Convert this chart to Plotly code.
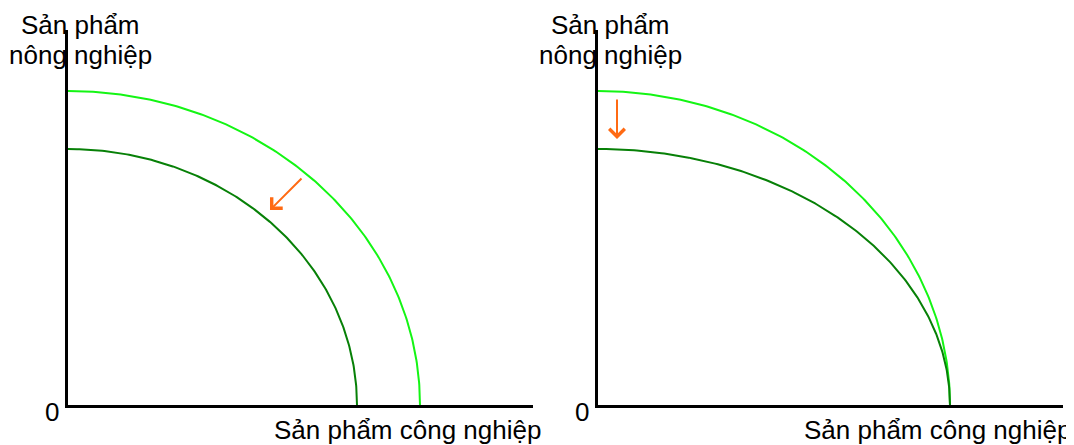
import numpy as np
import plotly.graph_objects as go

# ---- data (arbitrary output units) ----
# intercepts of production possibility frontiers: (industrial max, agricultural max)
left_outer = (352, 314)
left_inner = (289, 256)
right_outer = (352, 314)
right_inner = (352, 256)
axis_max = (465, 375)

x_label = "Sản phẩm công nghiệp"
y_label_lines = ["Sản phẩm", "nông nghiệp"]
origin_label = "0"

# arrows: (tail_x, tail_y, head_x, head_y) in data units
left_arrow = (235, 228, 202, 195)
right_arrow = (19, 307, 19, 266)

LIGHT = "#14f514"
DARK = "#078007"
ORANGE = "#ff6a13"
FONT = "Liberation Sans, Arial, sans-serif"

t = np.linspace(0, np.pi / 2, 200)


def ppf(ab):
    a, b = ab
    return a * np.cos(t), b * np.sin(t)


fig = go.Figure()
curves = [
    ("x", "y", left_outer, LIGHT),
    ("x", "y", left_inner, DARK),
    ("x2", "y2", right_outer, LIGHT),
    ("x2", "y2", right_inner, DARK),
]
for xa, ya, ab, col in curves:
    xs, ys = ppf(ab)
    fig.add_trace(go.Scatter(x=xs, y=ys, mode="lines", xaxis=xa, yaxis=ya,
                             line=dict(color=col, width=2), hoverinfo="skip",
                             showlegend=False))

# page has an 8px body margin; size the figure to fit the window
OFF = 8
W, H = 1074 - OFF, 445 - OFF
x_doms = [((68 - OFF) / W, (533 - OFF) / W), ((598 - OFF) / W, (1063 - OFF) / W)]
y_dom = ((H - (405 - OFF)) / H, (H - (30 - OFF)) / H)

ax_common = dict(showgrid=False, zeroline=False, showticklabels=False, ticks="",
                 showline=True, linecolor="black", linewidth=3)
fig.update_layout(
    width=W, height=H, margin=dict(l=0, r=0, t=0, b=0),
    paper_bgcolor="white", plot_bgcolor="white",
    xaxis=dict(domain=x_doms[0], range=[0, axis_max[0]], anchor="y", **ax_common),
    yaxis=dict(domain=y_dom, range=[0, axis_max[1]], anchor="x", **ax_common),
    xaxis2=dict(domain=x_doms[1], range=[0, axis_max[0]], anchor="y2", **ax_common),
    yaxis2=dict(domain=y_dom, range=[0, axis_max[1]], anchor="x2", **ax_common),
)

annots = []
for xr, yr in [("x", "y"), ("x2", "y2")]:
    font = dict(family=FONT, size=26, color="black")
    annots.append(dict(x=axis_max[0], y=0, xref=xr, yref=yr, text=x_label,
                       showarrow=False, xanchor="right", yanchor="top",
                       xshift=10, yshift=-8, font=font))
    annots.append(dict(x=0, y=0, xref=xr, yref=yr, text=origin_label,
                       showarrow=False, xanchor="center", yanchor="middle",
                       xshift=-16, yshift=-7, font=font))
    for i, line in enumerate(y_label_lines):
        annots.append(dict(x=0, y=axis_max[1], xref=xr, yref=yr, text=line,
                           showarrow=False, xanchor="center", yanchor="middle",
                           xshift=12, yshift=5 - 30 * i, font=font))

for (tx, ty, hx, hy), xr, yr in [(left_arrow, "x", "y"), (right_arrow, "x2", "y2")]:
    annots.append(dict(x=hx, y=hy, ax=tx, ay=ty, xref=xr, yref=yr, axref=xr, ayref=yr,
                       showarrow=True, arrowhead=4, arrowsize=1.5, arrowwidth=2,
                       arrowcolor=ORANGE, text=""))

fig.update_layout(annotations=annots)
fig.write_html("out.html")
